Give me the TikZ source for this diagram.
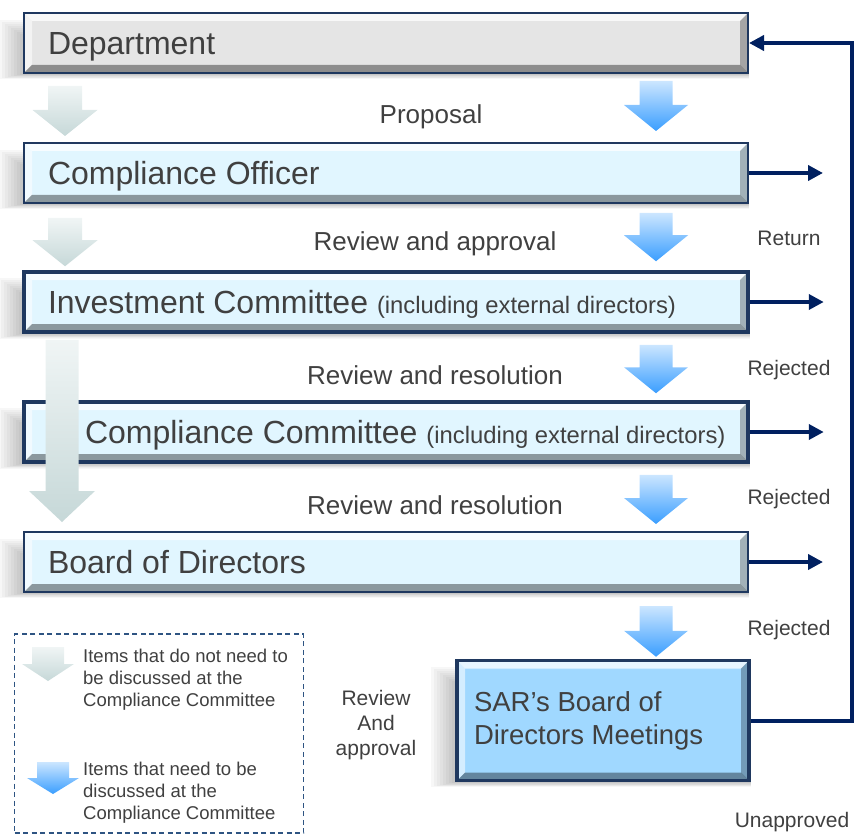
\documentclass[tikz,border=0pt]{standalone}
\usepackage{fontspec}
\setmainfont{Liberation Sans}
\usepackage{xcolor}
\usetikzlibrary{arrows.meta, positioning, calc, backgrounds}
\definecolor{boxnavy}{RGB}{31,56,95}
\definecolor{linknavy}{RGB}{0,32,96}
\definecolor{txtgray}{RGB}{64,64,64}
\definecolor{deptgray}{RGB}{229,229,229}
\definecolor{paleblue}{RGB}{225,246,255}
\definecolor{sarblue}{RGB}{160,216,255}
\definecolor{graytop}{RGB}{240,245,245}
\definecolor{graybot}{RGB}{198,216,216}
\definecolor{bluetop}{RGB}{204,230,255}
\definecolor{bluebot}{RGB}{58,158,255}
\definecolor{legendline}{RGB}{46,84,130}

\tikzset{
  bevel/.style={path picture={
    \coordinate (nw) at (path picture bounding box.north west);
    \coordinate (ne) at (path picture bounding box.north east);
    \coordinate (sw) at (path picture bounding box.south west);
    \coordinate (se) at (path picture bounding box.south east);
    \fill[white, opacity=.75] (nw) -- (ne) -- ([shift={(-8pt,-8pt)}]ne) -- ([shift={(8pt,-8pt)}]nw) -- cycle;
    \fill[white, opacity=.55] (nw) -- ([shift={(8pt,-8pt)}]nw) -- ([shift={(8pt,8pt)}]sw) -- (sw) -- cycle;
    \fill[black, opacity=.28] (ne) -- (se) -- ([shift={(-8pt,8pt)}]se) -- ([shift={(-8pt,-8pt)}]ne) -- cycle;
    \fill[black, opacity=.38] (sw) -- (se) -- ([shift={(-8pt,8pt)}]se) -- ([shift={(8pt,8pt)}]sw) -- cycle;
  }},
  stage/.style={draw=boxnavy, line width=2pt, fill=paleblue, minimum width=724pt,
    minimum height=60pt, text width=676pt, align=flush left, inner sep=0pt, text depth=0pt,
    font=\fontsize{32}{36}\selectfont, text=txtgray, bevel},
  heavy/.style={line width=3.5pt},
  lbl/.style={text=txtgray, font=\fontsize{26}{30}\selectfont, inner sep=0pt, text depth=0pt},
  side/.style={text=txtgray, font=\fontsize{21}{25}\selectfont, inner sep=0pt, text depth=0pt},
  note/.style={text=txtgray, font=\fontsize{18.5}{22}\selectfont, align=left, inner sep=0pt, anchor=west},
  link/.style={draw=linknavy, line width=3.8pt, -{Triangle[length=15pt,width=15pt]}},
  grayflow/.style={top color=graytop, bottom color=graybot, draw=none},
  blueflow/.style={top color=bluetop, bottom color=bluebot, draw=none},
}
\newcommand\aside[1]{{\fontsize{23.8}{28}\selectfont #1}}

% block arrow: style, top point, tip point, shaft half, head half, head length
\newcommand\flowdown[6]{%
  \path[#1] let \p1=#2, \p2=#3 in
    (\x1-#4,\y1) -- (\x1+#4,\y1) -- (\x1+#4,\y2+#6) -- (\x1+#5,\y2+#6)
    -- (\x1,\y2) -- (\x1-#5,\y2+#6) -- (\x1-#4,\y2+#6) -- cycle;}

\begin{document}
\begin{tikzpicture}[x=1pt, y=-1pt]
  \useasboundingbox (0,0) rectangle (854,837);
  \coordinate (bluex) at (656,0);
  \coordinate (grayx) at (65,0);
  \coordinate (longx) at (62,0);

  % stages
  \node[stage, fill=deptgray] (dept) at (386,43) {Department};
  \node[stage] (co) at (386,173) {Compliance Officer};
  \node[stage, heavy] (ic) at (386,302) {\mbox{Investment Committee \aside{(including external directors)}}};
  \node[stage, heavy] (cc) at (386,432) {\mbox{\hspace*{37pt}Compliance Committee \aside{(including external directors)}}};
  \node[stage] (bod) at (386,562) {Board of Directors};
  \node[stage, heavy, fill=sarblue, minimum width=292pt, minimum height=120pt, text width=258pt,
        text depth=, font=\fontsize{27.5}{33}\selectfont] (sar) at (603,720.5) {SAR’s Board of\\Directors Meetings};

  % soft shadows
  \begin{scope}[on background layer]
    \foreach \b in {dept,co,ic,cc,bod,sar}
      \foreach \k in {1,...,8}
        \fill[black, opacity=0.03] ([xshift={-3pt*\k}, yshift={-0.6pt*\k}]\b.south west)
          rectangle ([yshift={-24pt+2pt*\k}]\b.north east);
  \end{scope}

  % flow arrows
  \flowdown{grayflow}{($(dept.south -| grayx)+(0,12)$)}{($(co.north -| grayx)+(0,-6)$)}{17pt}{32.5pt}{26pt}
  \flowdown{grayflow}{($(co.south -| grayx)+(0,14)$)}{($(ic.north -| grayx)+(0,-4)$)}{17pt}{32.5pt}{26pt}
  \flowdown{blueflow}{($(dept.south -| bluex)+(0,7)$)}{($(co.north -| bluex)+(0,-11)$)}{16.5pt}{32pt}{26pt}
  \flowdown{blueflow}{($(co.south -| bluex)+(0,9)$)}{($(ic.north -| bluex)+(0,-9)$)}{16.5pt}{32pt}{26pt}
  \flowdown{blueflow}{($(ic.south -| bluex)+(0,11)$)}{($(cc.north -| bluex)+(0,-7)$)}{16.5pt}{32pt}{26pt}
  \flowdown{blueflow}{($(cc.south -| bluex)+(0,11)$)}{($(bod.north -| bluex)+(0,-7)$)}{16.5pt}{32pt}{26pt}
  \flowdown{blueflow}{($(bod.south -| bluex)+(0,13)$)}{($(sar.north -| bluex)+(0,-2)$)}{16.5pt}{32pt}{26pt}
  \flowdown{grayflow}{($(ic.south -| longx)+(0,6)$)}{($(bod.north -| longx)+(0,-9)$)}{16.5pt}{33pt}{31pt}

  % labels
  \node[lbl] (proposal) at (431,114) {Proposal};
  \node[lbl] (revappr) at (435,241) {Review and approval};
  \node[lbl] (revres1) at (435,375) {Review and resolution};
  \node[lbl] (revres2) at (435,505) {Review and resolution};
  \node[side] (ret) at (789,238) {Return};
  \node[side] (rej1) at (789,368) {Rejected};
  \node[side] (rej2) at (789,497) {Rejected};
  \node[side] (rej3) at (789,628) {Rejected};
  \node[side] (unappr) at (792,820) {Unapproved};
  \node[side, align=center] (sarrev) at (376,723) {Review\\And\\approval};

  % return and rejection links
  \foreach \b/\c in {co/r1, ic/r2, cc/r3, bod/r4} {
    \coordinate (\c) at ([xshift=74pt]\b.east);
    \draw[link] (\b.east) -- (\c);
  }
  \coordinate (fbx) at (852,400);
  \draw[link, line width=4pt] (sar.east) -| (fbx) |- (dept.east);

  % legend
  \node[draw=legendline, line width=1.4pt, dash pattern=on 5pt off 3.5pt,
        minimum width=289pt, minimum height=199pt, inner sep=0pt] (legend) at (159,733.5) {};
  \coordinate (lg1) at (48,647);
  \coordinate (lg1tip) at (48,681);
  \coordinate (lg2) at (53,762);
  \coordinate (lg2tip) at (53,794);
  \flowdown{grayflow}{(lg1)}{(lg1tip)}{16pt}{26pt}{17pt}
  \flowdown{blueflow}{(lg2)}{(lg2tip)}{16pt}{26pt}{16pt}
  \node[note] (notegray) at (83,680) {Items that do not need to\\be discussed at the\\Compliance Committee};
  \node[note] (noteblue) at (83,793) {Items that need to be\\discussed at the\\Compliance Committee};
\end{tikzpicture}
\end{document}
